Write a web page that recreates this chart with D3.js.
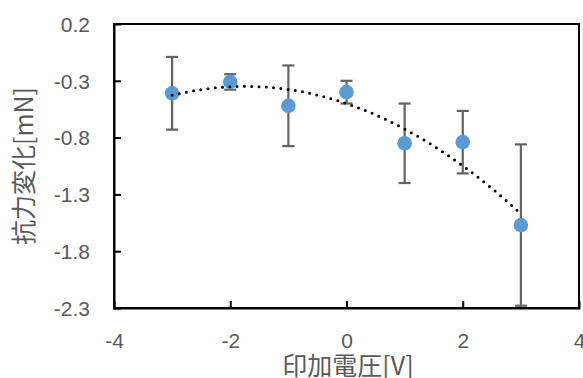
<!DOCTYPE html>
<html>
<head>
<meta charset="utf-8">
<script src="https://cdn.jsdelivr.net/npm/d3@7"></script>
<style>
  html, body { margin: 0; padding: 0; background: #fff; }
  svg { display: block; }
  text { font-family: "Noto Sans CJK JP", "Liberation Sans", Arial, sans-serif; fill: #595959; }
</style>
</head>
<body>
<svg id="chart" width="583" height="378"></svg>
<script>
// Applied voltage [V] and drag-force change [mN] with error half-widths
const voltages = [-3, -2, -1, 0, 1, 2, 3];
const forceChange = [-0.41, -0.31, -0.52, -0.40, -0.85, -0.84, -1.57];
const errors = [0.32, 0.068, 0.355, 0.10, 0.35, 0.275, 0.71];
const xTicks = [-4, -2, 0, 2, 4];
const yTicks = [0.2, -0.3, -0.8, -1.3, -1.8, -2.3];

const margin = { left: 114, right: 4, top: 24, bottom: 70 };
const W = 583, H = 378;
const svg = d3.select("#chart");

const x = d3.scaleLinear().domain([-4, 4]).range([margin.left, W - margin.right]);
const y = d3.scaleLinear().domain([-2.3, 0.2]).range([H - margin.bottom, margin.top]);

const fmtX = d => d3.format("d")(d).replace("\u2212", "-");
const fmtY = d => d3.format(".1f")(d).replace("\u2212", "-");

// plot frame
svg.append("rect")
  .attr("x", x(-4)).attr("y", y(0.2))
  .attr("width", x(4) - x(-4)).attr("height", y(-2.3) - y(0.2))
  .attr("fill", "none").attr("stroke", "#000").attr("stroke-width", 2);

// axes with inward ticks
const xAxis = svg.append("g")
  .attr("transform", `translate(0,${y(-2.3)})`)
  .call(d3.axisBottom(x).tickValues(xTicks).tickSize(-7).tickPadding(25).tickFormat(fmtX));
const yAxis = svg.append("g")
  .attr("transform", `translate(${x(-4)},0)`)
  .call(d3.axisLeft(y).tickValues(yTicks).tickSize(-7).tickPadding(24).tickFormat(fmtY));

[xAxis, yAxis].forEach(g => {
  g.select(".domain").attr("stroke", "#000").attr("stroke-width", 2);
  g.selectAll(".tick line").attr("stroke", "#000").attr("stroke-width", 2);
  g.selectAll(".tick text")
    .attr("fill", "#595959")
    .style("font-family", "'Liberation Sans', Arial, sans-serif")
    .style("font-size", "21px");
});
yAxis.selectAll(".tick text").attr("dy", "0.35em");
// tick marks at the frame corners coincide with the frame itself
xAxis.selectAll(".tick line").filter(d => d === -4 || d === 4).remove();
yAxis.selectAll(".tick line").filter(d => d === 0.2 || d === -2.3).remove();

// quadratic least-squares trendline
const n = voltages.length;
const sx = d3.sum(voltages), sx2 = d3.sum(voltages, v => v * v),
      sx3 = d3.sum(voltages, v => v ** 3), sx4 = d3.sum(voltages, v => v ** 4);
const sy = d3.sum(forceChange), sxy = d3.sum(voltages, (v, i) => v * forceChange[i]),
      sx2y = d3.sum(voltages, (v, i) => v * v * forceChange[i]);
function solve3(A, b) {
  const M = A.map((r, i) => [...r, b[i]]);
  for (let i = 0; i < 3; i++) {
    let p = i;
    for (let k = i + 1; k < 3; k++) if (Math.abs(M[k][i]) > Math.abs(M[p][i])) p = k;
    [M[i], M[p]] = [M[p], M[i]];
    for (let k = i + 1; k < 3; k++) {
      const f = M[k][i] / M[i][i];
      for (let j = i; j < 4; j++) M[k][j] -= f * M[i][j];
    }
  }
  const r = [0, 0, 0];
  for (let i = 2; i >= 0; i--) {
    let s = M[i][3];
    for (let j = i + 1; j < 3; j++) s -= M[i][j] * r[j];
    r[i] = s / M[i][i];
  }
  return r;
}
const [c0, c1, c2] = solve3([[n, sx, sx2], [sx, sx2, sx3], [sx2, sx3, sx4]], [sy, sxy, sx2y]);
const trendX = d3.range(0, 61).map(i => -3 + i * 0.1);
const trendLine = d3.line().x(v => x(v)).y(v => y(c0 + c1 * v + c2 * v * v));

// error bars
const eb = svg.append("g").attr("stroke", "#636363").attr("stroke-width", 2.2);
voltages.forEach((v, i) => {
  const top = y(forceChange[i] + errors[i]), bot = y(forceChange[i] - errors[i]);
  eb.append("line").attr("x1", x(v)).attr("x2", x(v)).attr("y1", top).attr("y2", bot);
  eb.append("line").attr("x1", x(v) - 6).attr("x2", x(v) + 6).attr("y1", top).attr("y2", top);
  eb.append("line").attr("x1", x(v) - 6).attr("x2", x(v) + 6).attr("y1", bot).attr("y2", bot);
});

// markers
svg.append("g").selectAll("circle")
  .data(voltages)
  .join("circle")
  .attr("cx", v => x(v))
  .attr("cy", (v, i) => y(forceChange[i]))
  .attr("r", 7.3)
  .attr("fill", "#5b9bd5");

// dotted trendline drawn over the markers
svg.append("path")
  .datum(trendX)
  .attr("d", trendLine)
  .attr("fill", "none").attr("stroke", "#000").attr("stroke-width", 3)
  .attr("stroke-linecap", "round").attr("stroke-dasharray", "0 7.3");

// axis titles
svg.append("text")
  .attr("x", 348).attr("y", 375)
  .attr("text-anchor", "middle")
  .style("font-size", "25px")
  .text("印加電圧[V]");
svg.append("text")
  .attr("transform", `translate(33,${(y(0.2) + y(-2.3)) / 2}) rotate(-90)`)
  .attr("text-anchor", "middle")
  .style("font-size", "25px")
  .text("抗力変化[mN]");
</script>
</body>
</html>
